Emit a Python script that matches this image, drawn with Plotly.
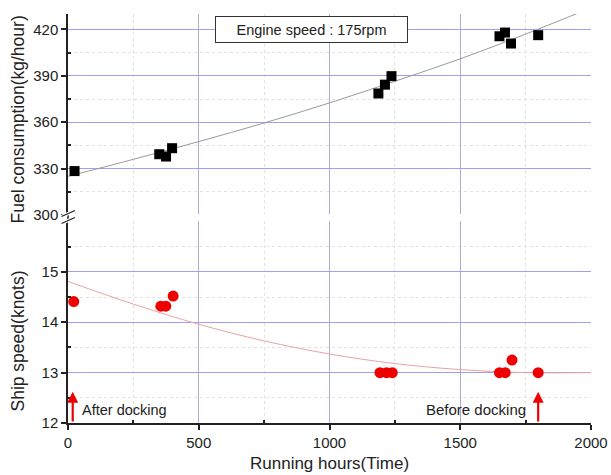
import plotly.graph_objects as go

# ---- data ----
fuel_hours = [25, 349, 375, 398, 1187, 1212, 1237, 1650, 1671, 1694, 1798]
fuel_values = [328.4, 339.3, 337.8, 343.2, 378.6, 384.3, 389.8, 415.6, 418.0, 410.9, 416.3]

speed_hours = [22, 355, 374, 402, 1193, 1218, 1240, 1650, 1672, 1698, 1798]
speed_values = [14.41, 14.32, 14.32, 14.52, 13.0, 13.0, 13.0, 13.0, 13.0, 13.25, 13.0]

fit_hours = [0, 250, 500, 750, 1000, 1250, 1500, 1750, 2000]
fuel_fit = [325.0, 336.0, 347.5, 359.5, 372.5, 386.5, 401.0, 417.0, 434.0]
speed_fit = [14.81, 14.36, 13.96, 13.63, 13.37, 13.18, 13.06, 13.00, 13.00]

x_ticks = [0, 500, 1000, 1500, 2000]
x_minor = [250, 750, 1250, 1750]
fuel_ticks = [300, 330, 360, 390, 420]
fuel_minor = [315, 345, 375, 405, 435]
speed_ticks = [12, 13, 14, 15]
speed_minor = [12.5, 13.5, 14.5, 15.5]

docking_hours = [18, 1798]

FONT = "Arial, Liberation Sans, sans-serif"
TXT = "#222222"
HGRID = "#a0a0f0"
VGRID = "#acacd4"
MINOR = "#e2e2e2"
AXIS = "#222222"

fig = go.Figure()

fig.add_trace(go.Scatter(x=fit_hours, y=fuel_fit, mode="lines", line=dict(color="#9a9a9a", width=1, shape="spline"),
                         xaxis="x2", yaxis="y2", hoverinfo="skip"))
fig.add_trace(go.Scatter(x=fuel_hours, y=fuel_values, mode="markers",
                         marker=dict(symbol="square", size=10, color="black"), xaxis="x2", yaxis="y2"))
fig.add_trace(go.Scatter(x=fit_hours, y=speed_fit, mode="lines", line=dict(color="#e9a3a3", width=1, shape="spline"),
                         xaxis="x", yaxis="y", hoverinfo="skip"))
fig.add_trace(go.Scatter(x=speed_hours, y=speed_values, mode="markers",
                         marker=dict(symbol="circle", size=11, color="#ee0000"), xaxis="x", yaxis="y"))

minor_common = dict(showgrid=True, gridcolor=MINOR, griddash="dot", gridwidth=1, tickmode="array")

fig.update_layout(
    width=611, height=475,
    margin=dict(l=68, r=20, t=14, b=52, autoexpand=False),
    paper_bgcolor="white", plot_bgcolor="white",
    showlegend=False,
    font=dict(family=FONT, size=15, color=TXT),
    xaxis=dict(domain=[0, 1], anchor="y", range=[0, 2000], tickmode="array", tickvals=x_ticks,
               showline=True, linecolor=AXIS, linewidth=1.5, automargin=False,
               ticks="outside", ticklen=5, tickcolor=AXIS, tickwidth=1.5,
               showgrid=True, gridcolor=VGRID, gridwidth=1, zeroline=False,
               minor=dict(tickvals=x_minor, ticks="inside", ticklen=3, tickcolor=AXIS, **minor_common),
               tickfont=dict(size=15, color=TXT)),
    xaxis2=dict(domain=[0, 1], anchor="y2", matches="x", range=[0, 2000], tickmode="array", tickvals=x_ticks,
                showticklabels=False, showline=False, ticks="", automargin=False,
                showgrid=True, gridcolor=VGRID, gridwidth=1, zeroline=False,
                minor=dict(tickvals=x_minor, **minor_common)),
    yaxis=dict(domain=[0, 0.4927], anchor="x", range=[12, 16], tickmode="array", tickvals=speed_ticks,
               showline=True, linecolor=AXIS, linewidth=1.5, automargin=False,
               ticks="outside", ticklen=5, tickcolor=AXIS, tickwidth=1.5,
               showgrid=True, gridcolor=HGRID, gridwidth=1, zeroline=False,
               minor=dict(tickvals=speed_minor, ticks="inside", ticklen=3, tickcolor=AXIS, **minor_common),
               tickfont=dict(size=15, color=TXT)),
    yaxis2=dict(domain=[0.5086, 1], anchor="x2", range=[300, 430], tickmode="array", tickvals=fuel_ticks,
                showline=True, linecolor=AXIS, linewidth=1.5, automargin=False,
                ticks="outside", ticklen=5, tickcolor=AXIS, tickwidth=1.5,
                showgrid=True, gridcolor=HGRID, gridwidth=1, zeroline=False,
                minor=dict(tickvals=fuel_minor, ticks="inside", ticklen=3, tickcolor=AXIS, **minor_common),
                tickfont=dict(size=15, color=TXT)),
)

# axis titles
fig.add_annotation(text="Fuel consumption(kg/hour)", xref="paper", yref="paper", x=-0.095, y=0.743,
                   textangle=-90, showarrow=False, font=dict(size=17.5, color=TXT), xanchor="center", yanchor="middle")
fig.add_annotation(text="Ship speed(knots)", xref="paper", yref="paper", x=-0.095, y=0.2,
                   textangle=-90, showarrow=False, font=dict(size=17.5, color=TXT), xanchor="center", yanchor="middle")
fig.add_annotation(text="Running hours(Time)", xref="paper", yref="paper", x=0.5, y=-0.1,
                   showarrow=False, font=dict(size=17, color=TXT), xanchor="center", yanchor="middle")

# engine speed box
fig.add_annotation(text="Engine speed : 175rpm", xref="x2", yref="y2", x=933, y=419.7, showarrow=False,
                   font=dict(size=14.5, color=TXT), bgcolor="white", bordercolor="#333333", borderwidth=1,
                   width=189, height=23, borderpad=1)

# docking arrows and labels
for h in docking_hours:
    fig.add_annotation(x=h, y=12.62, ax=h, ay=12.0, xref="x", yref="y", axref="x", ayref="y",
                       showarrow=True, arrowhead=2, arrowsize=1, arrowwidth=2.2, arrowcolor="#ee0000", text="")
fig.add_annotation(text="After docking", x=44, y=12.25, xref="x", yref="y", xanchor="left", yanchor="middle",
                   showarrow=False, font=dict(size=14.5, color=TXT))
fig.add_annotation(text="Before docking", x=1760, y=12.27, xref="x", yref="y", xanchor="right", yanchor="middle",
                   showarrow=False, font=dict(size=15, color=TXT))

# hide gridline at the break edge of the top panel and draw the axis break marks
W, H = 523.0, 409.0
def px(xp):
    return (xp - 68) / W
def py(yp):
    return (423 - yp) / H
fig.add_shape(type="line", xref="paper", yref="paper", x0=px(69.5), x1=1.0, y0=py(215), y1=py(215),
              line=dict(color="white", width=2))
fig.add_shape(type="line", xref="paper", yref="paper", x0=px(68), x1=px(68), y0=py(214), y1=py(222),
              line=dict(color=AXIS, width=1.5))
for yb in (213.5, 220.5):
    fig.add_shape(type="line", xref="paper", yref="paper", x0=px(61.5), x1=px(75), y0=py(yb + 3), y1=py(yb - 3),
                  line=dict(color="white", width=3.5))
    fig.add_shape(type="line", xref="paper", yref="paper", x0=px(61.5), x1=px(75), y0=py(yb + 3), y1=py(yb - 3),
                  line=dict(color=AXIS, width=1.3))

fig.write_html("out.html")
